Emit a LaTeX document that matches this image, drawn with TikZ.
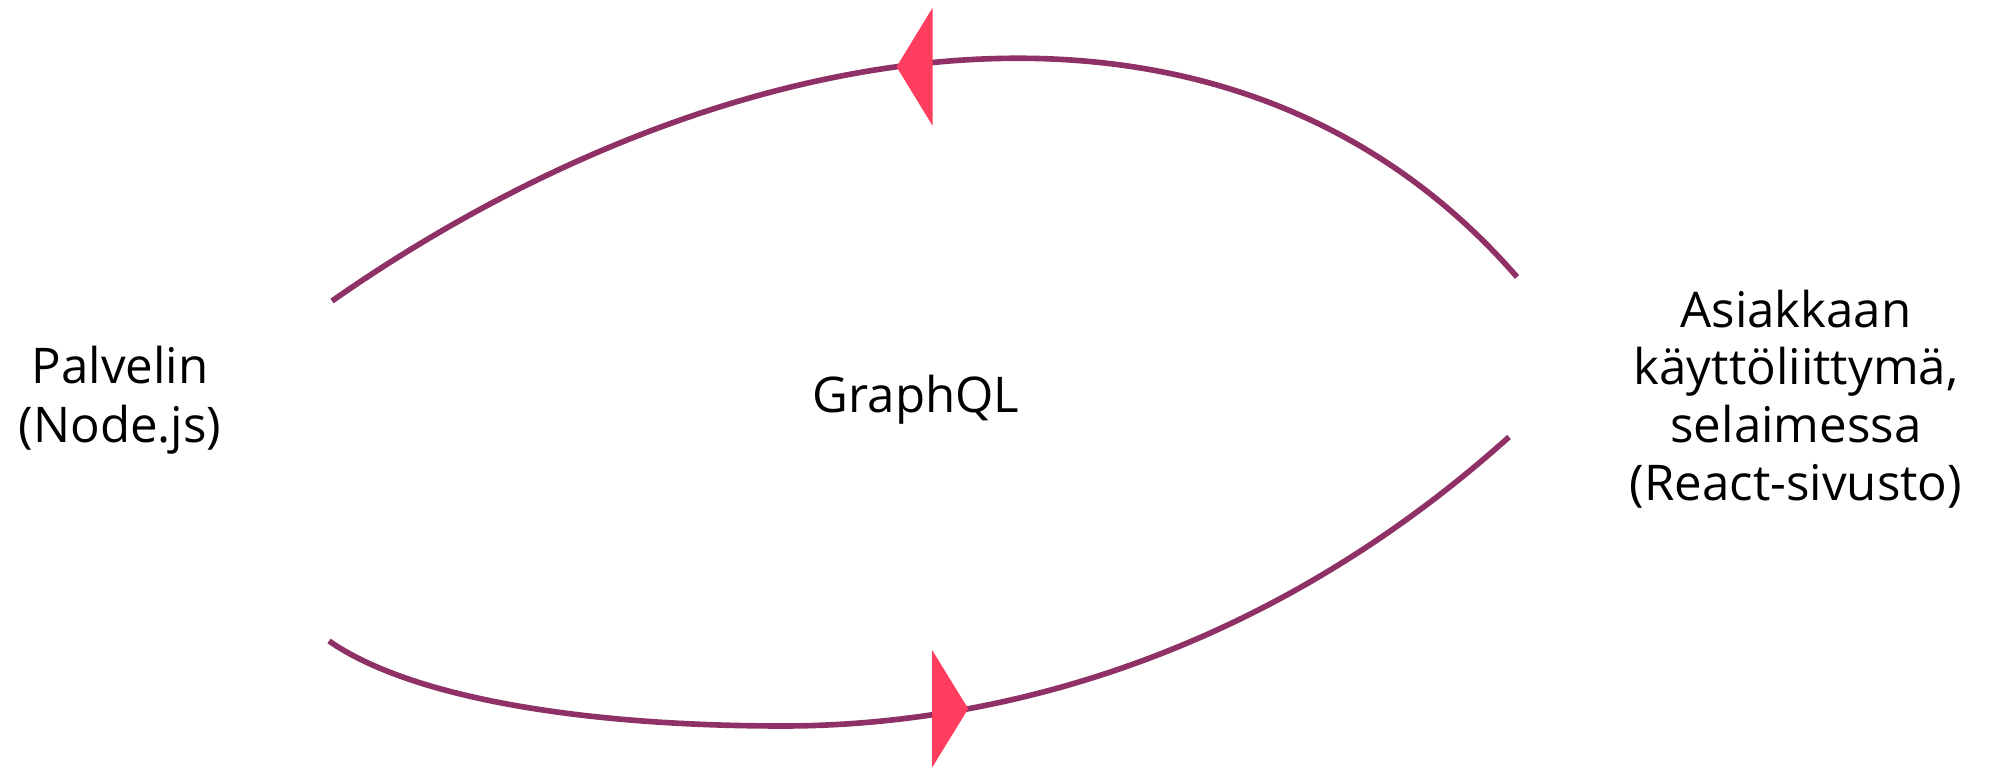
\documentclass[tikz,border=0pt]{standalone}
\usepackage{fontspec}
\setmainfont{Open Sans}
\usepackage{xcolor}
\usepackage{tikz}

\definecolor{loopline}{RGB}{143,49,102}
\definecolor{looptip}{RGB}{255,61,95}

\begin{document}
\begin{tikzpicture}[
        party/.style={inner sep=0pt, align=center, font=\fontsize{14}{16.8}\selectfont},
        wideparty/.style={inner sep=0pt, align=center, font=\fontsize{14}{16.4}\selectfont},
        proto/.style={inner sep=0pt, font=\fontsize{14}{16}\selectfont},
        flow/.style={line width=1.6pt, loopline},
        tip/.style={fill=looptip}
    ]
        \useasboundingbox (0,0) rectangle (19.97,7.68);

        \node[party] (server) at (1.20,3.68) {Palvelin\\(Node.js)};
        \node[proto] (api) at (9.16,3.68) {GraphQL};
        \node[wideparty] (client) at (17.96,3.69) {Asiakkaan\\käyttöliittymä,\\selaimessa\\(React-sivusto)};

        \coordinate (srvtop) at (3.32,4.67);
        \coordinate (srvbot) at (3.29,1.27);
        \coordinate (clitop) at (15.17,4.91);
        \coordinate (clibot) at (15.09,3.31);
        \coordinate (dip) at (7.83,0.42);

        % query: client -> server
        \draw[flow] (clitop) .. controls (12.23,8.29) and (7.21,7.39) .. (srvtop)
            coordinate[pos=0.55] (reqtip);
        % answer: server -> client
        \draw[flow] (srvbot) .. controls (4.11,0.70) and (5.83,0.42) .. (dip)
            .. controls (9.83,0.42) and (12.56,1.04) .. (clibot)
            coordinate[pos=0.283] (reptip);

        \fill[tip] (reqtip) -- ++(0.36,0.59) -- ++(0,-1.18) -- cycle;
        \fill[tip] (reptip) -- ++(-0.36,0.585) -- ++(0,-1.17) -- cycle;
    \end{tikzpicture}
\end{document}
